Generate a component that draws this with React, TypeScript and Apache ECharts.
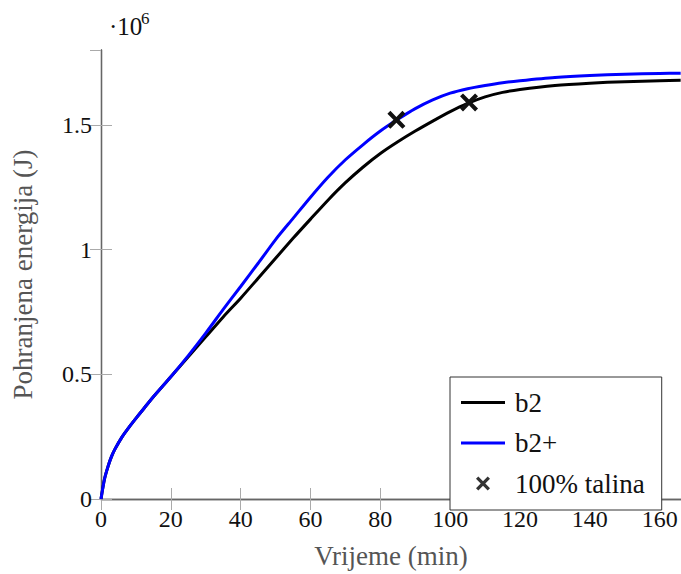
import React, { useEffect, useRef } from "react";
import * as echarts from "echarts";

// Time (min)
const timeMin = [0, 1, 2, 3, 4, 6, 8, 10, 12, 15, 20, 25, 30, 35, 40, 45, 50, 55, 60, 65, 70, 75, 80, 85, 90, 95, 100, 105, 110, 115, 120, 130, 140, 150, 160, 166];
// Stored energy, in units of 10^6 J
const b2Energy = [0, 0.08, 0.13, 0.17, 0.2, 0.248, 0.287, 0.323, 0.358, 0.41, 0.49, 0.57, 0.65, 0.73, 0.805, 0.885, 0.965, 1.045, 1.122, 1.198, 1.268, 1.33, 1.385, 1.432, 1.475, 1.515, 1.553, 1.586, 1.612, 1.63, 1.642, 1.658, 1.667, 1.673, 1.677, 1.679];
const b2PlusEnergy = [0, 0.08, 0.13, 0.17, 0.2, 0.248, 0.287, 0.323, 0.358, 0.41, 0.49, 0.575, 0.665, 0.76, 0.852, 0.945, 1.04, 1.125, 1.21, 1.29, 1.36, 1.42, 1.475, 1.522, 1.565, 1.6, 1.627, 1.645, 1.658, 1.669, 1.677, 1.69, 1.698, 1.703, 1.706, 1.707];
// 100% melt points
const meltTime = [84.6, 105.4];
const meltEnergy = [1.52, 1.59];

const seriesNames = ["b2", "b2+", "100% talina"];
const xTicks = { min: 0, max: 166.1, interval: 20 };
const yTicks = { min: 0, max: 1.8, interval: 0.5 };

const FONT = "Liberation Serif";
const CROSS = "path://M0,2.3 L2.3,0 L7,4.7 L11.7,0 L14,2.3 L9.3,7 L14,11.7 L11.7,14 L7,9.3 L2.3,14 L0,11.7 L4.7,7 Z";
const LINE_ICON = "path://M0,0 L44,0 L44,3 L0,3 Z";

export default function App() {
  const ref = useRef<HTMLDivElement>(null);
  useEffect(() => {
    if (!ref.current) return;
    const chart = echarts.init(ref.current, null, { renderer: "svg" });
    const axisLine = { show: true, lineStyle: { color: "#666", width: 1.3 } };
    const axisTick = { show: true, inside: true, length: 11, lineStyle: { color: "#aaa", width: 1 } };
    const labelStyle = { fontFamily: FONT, fontSize: 24, color: "#111" };
    const nameStyle = { fontFamily: FONT, fontSize: 27, color: "#555" };
    chart.setOption({
      animation: false,
      backgroundColor: "#fff",
      grid: { left: 101, top: 50, width: 581.5, height: 454, containLabel: false },
      xAxis: [
        {
          type: "value", position: "bottom", ...xTicks,
          axisLine, axisTick, splitLine: { show: false },
          axisLabel: { ...labelStyle, margin: 8, showMaxLabel: false },
          name: "Vrijeme (min)", nameLocation: "middle", nameGap: 43, nameTextStyle: nameStyle,
        },
        {
          type: "value", position: "top", ...xTicks,
          axisLine, axisTick, splitLine: { show: false }, axisLabel: { show: false },
        },
      ],
      yAxis: [
        {
          type: "value", position: "left", ...yTicks,
          axisLine, axisTick, splitLine: { show: false },
          axisLabel: { ...labelStyle, margin: 9, showMaxLabel: false, formatter: (v: number) => String(v) },
          name: "Pohranjena energija (J)", nameLocation: "middle", nameGap: 65, nameTextStyle: nameStyle,
        },
        {
          type: "value", position: "right", ...yTicks,
          axisLine, axisTick, splitLine: { show: false }, axisLabel: { show: false },
        },
      ],
      legend: {
        orient: "vertical",
        left: 450,
        top: 377,
        padding: [12, 17, 13, 11],
        itemGap: 13.5,
        itemWidth: 44,
        itemHeight: 14,
        backgroundColor: "#fff",
        borderColor: "#333",
        borderWidth: 1,
        borderRadius: 0,
        textStyle: { fontFamily: FONT, fontSize: 27, color: "#111", lineHeight: 20, padding: [0, 0, 0, 5] },
        data: [
          { name: seriesNames[0], icon: LINE_ICON, itemStyle: { color: "#000" } },
          { name: seriesNames[1], icon: LINE_ICON, itemStyle: { color: "#0000ff" } },
          { name: seriesNames[2], icon: CROSS, itemStyle: { color: "#333" } },
        ],
      },
      series: [
        {
          name: seriesNames[0], type: "line", smooth: 0.25, showSymbol: false,
          data: timeMin.map((t, i) => [t, b2Energy[i]]),
          lineStyle: { color: "#000", width: 3 }, itemStyle: { color: "#000" }, z: 2,
        },
        {
          name: seriesNames[1], type: "line", smooth: 0.25, showSymbol: false,
          data: timeMin.map((t, i) => [t, b2PlusEnergy[i]]),
          lineStyle: { color: "#0000ff", width: 3 }, itemStyle: { color: "#0000ff" }, z: 3,
        },
        {
          name: seriesNames[2], type: "scatter", symbol: CROSS, symbolSize: 18,
          data: meltTime.map((t, i) => [t, meltEnergy[i]]),
          itemStyle: { color: "#111", opacity: 1 }, z: 5,
        },
      ],
      graphic: [
        { type: "text", left: 109, top: 14, style: { text: "·10", fontFamily: FONT, fontSize: 25, fill: "#111" } },
        { type: "text", left: 141, top: 10, style: { text: "6", fontFamily: FONT, fontSize: 17, fill: "#111" } },
      ],
    });
    return () => chart.dispose();
  }, []);
  return <div ref={ref} style={{ position: "absolute", left: 0, top: 0, width: 681, height: 574 }} />;
}
